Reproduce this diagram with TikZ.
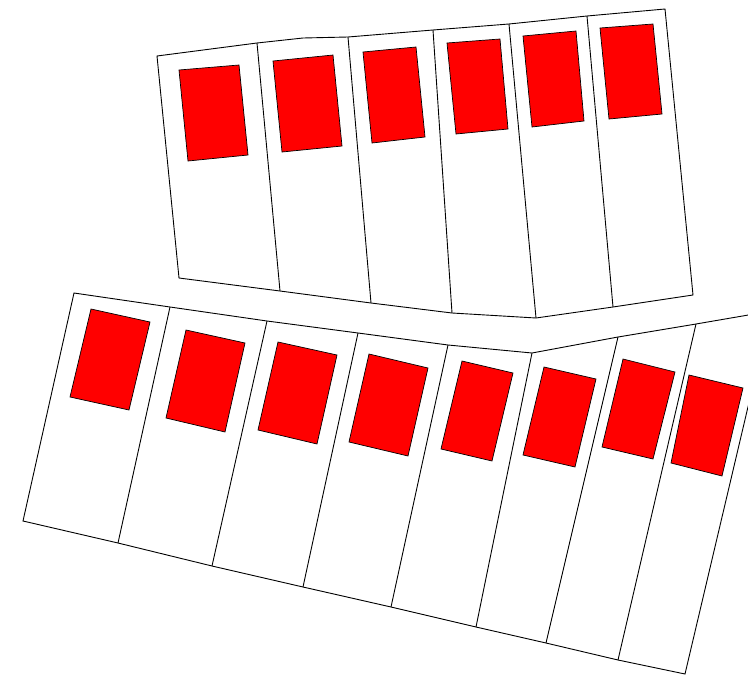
\documentclass[tikz,border=0pt]{standalone}
\begin{document}
\begin{tikzpicture}[x=1pt,y=-1pt,
  lot/.style={draw=black,line width=0.9pt,line join=miter},
  house/.style={draw=black,fill=red,line width=0.7pt}]
\useasboundingbox (0,0) rectangle (748,675);
\clip (0,0) rectangle (748,675);
% ---------- top row ----------
\draw[lot] (157,56) -- (257,43) -- (303,38) -- (348,37) -- (433,30) -- (509,24) -- (587,16) -- (665,9)
  -- (693,295) -- (613,307) -- (536,318) -- (452,313) -- (371,303) -- (280,291) -- (179,278) -- cycle;
\draw[lot] (257,43) -- (280,291);
\draw[lot] (348,37) -- (371,303);
\draw[lot] (433,30) -- (452,313);
\draw[lot] (509,24) -- (536,318);
\draw[lot] (587,16) -- (613,307);
\draw[house] (179,70) -- (239,65) -- (248,155) -- (188,161) -- cycle;
\draw[house] (273,61) -- (333,55) -- (342,146) -- (282,152) -- cycle;
\draw[house] (363,52) -- (416,47) -- (425,137) -- (372,143) -- cycle;
\draw[house] (447,43) -- (500,39) -- (508,129) -- (456,134) -- cycle;
\draw[house] (523,36) -- (576,31) -- (584,121) -- (532,127) -- cycle;
\draw[house] (600,28) -- (653,24) -- (662,114) -- (609,119) -- cycle;
% ---------- bottom row ----------
\draw[lot] (74,293) -- (170,307) -- (267,321) -- (358,333) -- (448,345) -- (532,353) -- (618,337) -- (696,324) -- (760,313)
  -- (760,356) -- (685,674) -- (618,660) -- (546,643) -- (476,627) -- (391,607) -- (303,587) -- (212,566) -- (118,543) -- (23,521) -- cycle;
\draw[lot] (170,307) -- (118,543);
\draw[lot] (267,321) -- (212,566);
\draw[lot] (358,333) -- (303,587);
\draw[lot] (448,345) -- (391,607);
\draw[lot] (532,353) -- (476,627);
\draw[lot] (618,337) -- (546,643);
\draw[lot] (696,324) -- (618,660);
\draw[house] (91,309) -- (150,322) -- (129,410) -- (70,397) -- cycle;
\draw[house] (186,330) -- (245,343) -- (225,432) -- (166,418) -- cycle;
\draw[house] (278,342) -- (337,355) -- (317,444) -- (258,430) -- cycle;
\draw[house] (369,354) -- (428,368) -- (408,456) -- (349,442) -- cycle;
\draw[house] (462,361) -- (513,373) -- (492,461) -- (441,449) -- cycle;
\draw[house] (544,367) -- (596,379) -- (575,467) -- (523,455) -- cycle;
\draw[house] (623,359) -- (675,372) -- (653,459) -- (602,447) -- cycle;
\draw[house] (689,375) -- (743,388) -- (722,476) -- (671,463) -- cycle;
\end{tikzpicture}
\end{document}
